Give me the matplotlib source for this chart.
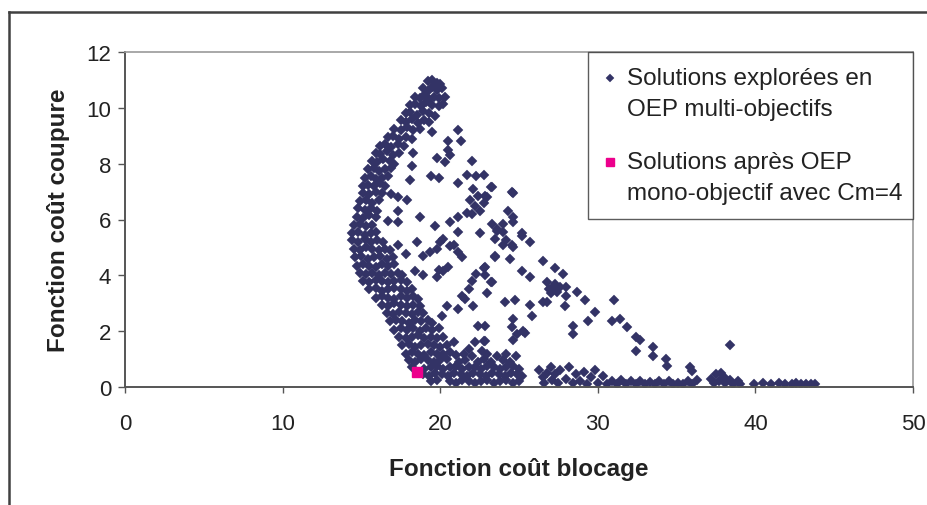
import matplotlib
matplotlib.use("Agg")
import matplotlib.pyplot as plt
from matplotlib.lines import Line2D
import numpy as np

plt.rcParams['font.family'] = ['Liberation Sans', 'DejaVu Sans']

# ---- data ----
upper_arm = [
    (19.2,10.95),(19.5,11.0),(19.8,10.9),(20.0,10.85),
    (18.9,10.7),(19.2,10.6),(19.5,10.75),(19.8,10.65),(20.1,10.7),
    (18.4,10.4),(18.7,10.35),(19.0,10.45),(19.3,10.3),(19.6,10.4),(19.9,10.35),(20.3,10.4),
    (18.1,10.1),(18.4,10.15),(18.8,10.05),(19.1,10.2),(19.5,10.1),(19.9,10.05),(20.2,10.15),
    (17.8,9.8),(18.1,9.85),(18.5,9.75),(18.9,9.9),(19.3,9.8),(19.7,9.7),
    (17.5,9.55),(17.8,9.5),(18.2,9.6),(18.6,9.45),(19.0,9.55),(19.3,9.5),
    (17.1,9.25),(17.5,9.2),(17.9,9.3),(18.3,9.2),(18.7,9.25),
    (16.7,8.95),(17.0,9.0),(17.4,8.9),(17.8,8.95),(18.2,8.9),
    (16.2,8.65),(16.5,8.7),(16.9,8.6),(17.3,8.7),(17.7,8.65),
    (15.9,8.4),(16.2,8.35),(16.6,8.45),(17.0,8.3),(17.4,8.4),
    (15.7,8.1),(16.0,8.05),(16.4,8.15),(16.8,8.1),(17.1,8.0),
    (15.4,7.8),(15.8,7.85),(16.1,7.75),(16.5,7.8),(16.9,7.85),
    (15.2,7.5),(15.6,7.55),(15.9,7.45),(16.3,7.5),(16.7,7.55),
    (15.1,7.2),(15.4,7.25),(15.8,7.2),(16.2,7.3),(16.5,7.2),
    (15.1,6.95),(15.5,6.9),(15.9,7.0),(16.3,6.95),
    (14.9,6.65),(15.3,6.7),(15.7,6.6),(16.1,6.7),
    (14.8,6.4),(15.2,6.35),(15.6,6.4),(16.0,6.3),
    (14.7,6.1),(15.1,6.05),(15.5,6.15),(15.9,6.1),
    (14.5,5.8),(14.9,5.85),(15.3,5.75),(15.7,5.8),
]

lower_band = [
    (14.4,5.5),(14.8,5.55),(15.2,5.45),(15.6,5.5),(15.9,5.55),
    (14.4,5.25),(14.8,5.2),(15.2,5.3),(15.6,5.2),(16.0,5.25),(16.4,5.2),
    (14.5,4.95),(14.9,4.9),(15.3,5.0),(15.7,4.95),(16.1,4.9),(16.5,4.95),(16.8,4.9),
    (14.6,4.65),(15.0,4.7),(15.4,4.6),(15.8,4.65),(16.2,4.7),(16.6,4.6),(17.0,4.65),
    (14.7,4.35),(15.1,4.4),(15.5,4.35),(15.9,4.3),(16.3,4.4),(16.7,4.35),(17.1,4.4),
    (14.9,4.1),(15.3,4.05),(15.7,4.1),(16.1,4.0),(16.5,4.1),(16.9,4.05),(17.3,4.1),(17.6,4.0),
    (15.1,3.8),(15.5,3.75),(15.9,3.85),(16.3,3.8),(16.7,3.75),(17.1,3.8),(17.5,3.85),(17.9,3.75),
    (15.5,3.5),(15.9,3.55),(16.3,3.45),(16.7,3.5),(17.1,3.55),(17.5,3.5),(17.9,3.45),(18.2,3.5),
    (15.9,3.2),(16.3,3.25),(16.7,3.2),(17.1,3.15),(17.5,3.25),(17.9,3.2),(18.3,3.25),(18.6,3.15),
    (16.3,2.95),(16.7,2.9),(17.1,3.0),(17.5,2.95),(17.9,2.9),(18.3,2.95),(18.7,2.9),
    (16.6,2.65),(17.0,2.6),(17.4,2.7),(17.8,2.65),(18.2,2.6),(18.6,2.7),(18.9,2.65),
    (16.8,2.35),(17.2,2.4),(17.6,2.35),(18.0,2.3),(18.4,2.4),(18.8,2.35),(19.2,2.4),(19.5,2.3),
    (17.1,2.05),(17.5,2.1),(17.9,2.05),(18.3,2.1),(18.7,2.0),(19.1,2.1),(19.5,2.05),(19.9,2.1),
    (17.4,1.8),(17.8,1.75),(18.2,1.8),(18.6,1.85),(19.0,1.75),(19.4,1.8),(19.8,1.75),(20.2,1.8),
    (17.6,1.5),(18.0,1.55),(18.4,1.45),(18.8,1.5),(19.2,1.55),(19.6,1.5),(20.0,1.45),(20.4,1.5),
    (17.8,1.2),(18.2,1.25),(18.6,1.2),(19.0,1.15),(19.4,1.25),(19.8,1.2),(20.2,1.2),(20.6,1.25),(21.0,1.15),
]

bottom_cluster = [
    (21.5,1.2),(22.0,1.1),(23.0,1.2),(23.6,1.1),(24.2,1.2),(24.8,1.1),(21.8,1.35),
    (18.0,0.95),(18.4,0.9),(18.8,1.0),(19.2,0.95),(19.6,0.9),(20.0,0.95),(20.4,1.0),
    (21.2,0.9),(21.6,0.95),(22.4,0.9),(22.8,1.0),(23.2,0.9),(24.0,0.95),(24.4,0.9),
    (18.2,0.7),(19.0,0.65),(19.4,0.7),(19.8,0.75),(20.2,0.65),(20.6,0.7),(21.0,0.75),
    (21.4,0.65),(21.8,0.7),(22.2,0.7),(22.6,0.65),(23.0,0.75),(23.4,0.7),(23.8,0.65),
    (24.2,0.7),(24.6,0.75),(25.0,0.65),
    (18.9,0.45),(19.3,0.4),(19.7,0.5),(20.1,0.45),(20.5,0.4),(20.9,0.5),(21.3,0.45),
    (21.7,0.4),(22.1,0.5),(22.5,0.45),(22.9,0.4),(23.3,0.5),(23.7,0.45),(24.1,0.4),
    (24.5,0.5),(24.9,0.45),(25.2,0.4),
    (19.4,0.2),(19.8,0.25),(20.6,0.2),(21.0,0.15),(21.4,0.25),(21.8,0.2),(22.2,0.15),
    (22.6,0.2),(23.0,0.25),(23.4,0.15),(23.8,0.2),(24.2,0.25),(24.6,0.15),(25.0,0.2),
]

bottom_tail = [
    (26.3,0.6),(26.5,0.35),(26.6,0.15),(26.8,0.5),(27.0,0.7),(27.1,0.25),(27.3,0.45),
    (27.5,0.15),(27.6,0.6),(28.0,0.3),(28.2,0.7),(28.4,0.15),(28.6,0.45),(28.9,0.2),
    (29.1,0.55),(29.3,0.12),(29.6,0.35),(29.8,0.6),(30.0,0.15),(30.3,0.4),(30.6,0.12),
    (30.9,0.2),(31.2,0.1),(31.5,0.25),(31.8,0.12),(32.1,0.2),(32.4,0.1),(32.7,0.22),
    (33.0,0.12),(33.3,0.18),(33.6,0.1),(33.9,0.2),(34.2,0.12),(34.5,0.22),(34.8,0.1),
    (35.1,0.15),(35.4,0.1),(35.7,0.2),(36.0,0.12),(36.3,0.25),
    (37.2,0.3),(37.5,0.45),(37.8,0.5),(38.0,0.35),(37.4,0.15),(37.7,0.2),(38.1,0.15),
    (38.4,0.25),(38.6,0.12),(39.0,0.12),(38.9,0.2),
    (39.9,0.1),(40.5,0.15),(41.0,0.1),(41.5,0.15),(41.9,0.12),(42.3,0.1),(42.6,0.15),
    (42.9,0.12),(43.2,0.12),(43.5,0.1),(43.8,0.12),
]

scattered = [
    (19.5,9.15),(21.1,9.2),(20.5,8.8),(21.3,8.8),(20.5,8.5),(20.6,8.3),(19.8,8.2),
    (20.3,8.05),(22.0,8.1),(18.3,8.4),(18.2,7.9),(18.1,7.4),(19.4,7.55),(19.9,7.5),
    (21.1,7.3),(21.7,7.6),(22.3,7.55),(22.8,7.6),(23.2,7.15),(24.6,6.95),(22.1,7.1),
    (21.9,6.7),(22.2,6.5),(22.5,6.3),(22.0,6.2),(22.8,6.6),(22.4,6.85),(23.0,6.8),
    (24.3,6.3),(24.6,6.1),(16.9,6.9),(17.3,6.8),(17.9,6.7),(17.3,6.3),(16.7,5.95),
    (17.3,5.9),(18.7,6.1),(19.7,5.75),(20.6,5.9),(21.1,6.1),(21.7,6.25),(21.1,5.55),
    (22.5,5.5),(17.3,5.1),(18.5,5.2),(17.8,4.75),(18.9,4.7),(19.35,4.85),(19.8,4.95),
    (20.0,5.2),(20.2,5.3),(20.6,5.05),(20.9,5.1),(21.1,4.85),(21.4,4.65),(23.3,5.85),
    (23.6,5.6),(23.5,5.3),(24.0,5.55),(24.6,5.9),(24.2,5.25),(24.6,5.0),(25.2,5.5),
    (25.7,5.2),(24.4,4.6),(23.5,4.65),(18.4,4.15),(18.9,4.0),(19.8,3.95),(20.2,4.15),
    (20.5,4.3),(19.9,4.2),(22.3,4.05),(22.8,4.25),(23.2,3.75),(22.0,3.8),(21.8,3.5),
    (23.0,3.35),(21.4,3.25),(21.6,3.15),(22.1,2.9),(20.4,2.9),(21.1,2.8),(20.1,2.55),
    (22.4,2.2),(24.1,3.05),(24.75,3.1),(25.2,4.15),(25.7,3.95),(25.7,2.95),(25.8,2.55),
    (24.6,2.45),(24.55,2.15),(24.9,1.9),(25.4,1.95),(26.5,4.5),(20.9,1.6),(22.2,1.6),
    (22.8,1.65),(22.65,1.3),(23.3,7.15),(24.55,7.0),(22.85,6.85),(24.0,5.85),(23.6,5.65),
    (25.2,5.4),(24.55,5.1),(24.0,5.1),(23.5,4.7),(27.3,4.25),(27.8,4.05),(22.85,4.3),
    (22.85,4.0),(23.3,3.75),(26.8,3.75),(27.1,3.55),(27.4,3.4),(27.0,3.35),(27.6,3.6),
    (26.9,3.5),(27.3,3.7),(28.0,3.6),(28.7,3.4),(29.2,3.1),(28.0,3.25),(31.0,3.1),
    (29.8,2.7),(29.4,2.35),(28.4,2.2),(28.4,1.9),(30.9,2.35),(31.4,2.45),(31.85,2.15),
    (32.4,1.8),(32.7,1.7),(32.4,1.3),(33.5,1.45),(33.5,1.1),(34.3,1.0),(34.4,0.75),
    (35.85,0.72),(36.0,0.57),(38.4,1.5),(26.5,3.05),(26.8,3.05),(27.9,2.9),(25.25,2.0),
    (24.6,1.7),(22.85,2.2),(22.85,1.65),
]

mono_x = [18.5]
mono_y = [0.55]

explored = upper_arm + lower_band + bottom_cluster + bottom_tail + scattered
explored_x = [p[0] for p in explored]
explored_y = [p[1] for p in explored]

label_explored = "Solutions explorées en\nOEP multi-objectifs"
label_mono = "Solutions après OEP\nmono-objectif avec Cm=4"
x_ticks = [0, 10, 20, 30, 40, 50]
y_ticks = [0, 2, 4, 6, 8, 10, 12]

# ---- figure ----
W, H = 927, 506
fig = plt.figure(figsize=(W / 100, H / 100), dpi=100)
ax = fig.add_axes([125 / W, 1 - 388 / H, (913 - 125) / W, (388 - 53) / H])

navy = '#333366'
pink = '#EC008C'

ax.plot(explored_x, explored_y, linestyle='none', marker='D', markersize=5.3,
        color=navy, markeredgecolor=navy, markeredgewidth=0.3, label=label_explored)
ax.plot(mono_x, mono_y, linestyle='none', marker='s', markersize=7.8,
        color=pink, markeredgecolor=pink, label=label_mono)

ax.set_xlim(0, 50)
ax.set_ylim(0, 12)
ax.set_xticks(x_ticks)
ax.set_yticks(y_ticks)
ax.tick_params(axis='both', direction='out', labelsize=16, colors='#555555',
               labelcolor='#222222', width=1)
ax.tick_params(axis='y', length=5, pad=5)
ax.tick_params(axis='x', length=4, pad=15)

for s in ['left', 'bottom']:
    ax.spines[s].set_color('#555555')
    ax.spines[s].set_linewidth(1.4)
for s in ['top', 'right']:
    ax.spines[s].set_color('#999999')
    ax.spines[s].set_linewidth(1.2)

ax.set_xlabel('Fonction coût blocage', fontsize=17.5, fontweight='bold',
              color='#222222', labelpad=16)
ax.set_ylabel('Fonction coût coupure', fontsize=17.5, fontweight='bold',
              color='#222222', labelpad=12)

leg = ax.legend(loc='upper left', bbox_to_anchor=((588 - 125) / 788, 0.0, (913 - 588) / 788, 1.0),
                mode='expand', borderaxespad=0, fontsize=17.5, frameon=True, fancybox=False,
                labelspacing=1.3, handlelength=0.6, handletextpad=0.4, borderpad=0.62,
                markerscale=0.75)
leg.get_frame().set_edgecolor('#333333')
leg.get_frame().set_linewidth(1.0)
for t in leg.get_texts():
    t.set_color('#222222')
    t.set_linespacing(1.5)
# align legend markers with the first line of each label
for h in leg.legend_handles:
    yd = h.get_ydata()
    h.set_ydata([v + 10.8 for v in yd])

# outer chart-area frame (left and top edges visible)
fig.add_artist(Line2D([9 / W, 9 / W], [0, 1 - 13 / H], transform=fig.transFigure,
                      color='#404040', linewidth=1.8))
fig.add_artist(Line2D([9 / W, 1], [1 - 13 / H, 1 - 13 / H], transform=fig.transFigure,
                      color='#404040', linewidth=1.8))

fig.savefig('out.png', dpi=100)
